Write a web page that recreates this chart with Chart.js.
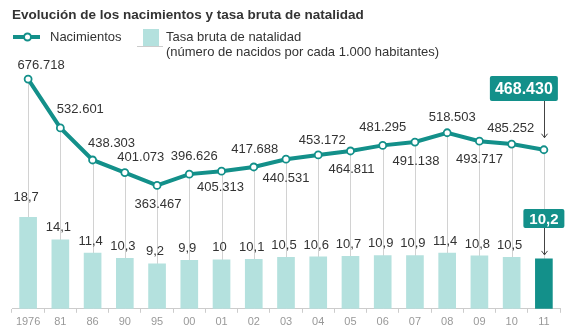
<!DOCTYPE html>
<html>
<head>
<meta charset="utf-8">
<script src="https://cdn.jsdelivr.net/npm/chart.js@4.4.1/dist/chart.umd.min.js"></script>
<style>
  html, body { margin: 0; padding: 0; background: #fff; }
  #wrap { width: 578px; height: 333px; }
</style>
</head>
<body>
<div id="wrap"><canvas id="chart" width="578" height="333"></canvas></div>
<script>
// data
const years = ['1976', '81', '86', '90', '95', '00', '01', '02', '03', '04', '05', '06', '07', '08', '09', '10', '11'];
const births = [676718, 532601, 438303, 401073, 363467, 396626, 405313, 417688, 440531,
  453172, 464811, 481295, 491138, 518503, 493717, 485252, 468430];
const birthRate = [18.7, 14.1, 11.4, 10.3, 9.2, 9.9, 10, 10.1, 10.5, 10.6, 10.7, 10.9, 10.9, 11.4, 10.8, 10.5, 10.2];

// where each birth label sits relative to its point (last one is the callout)
const birthLabelOffsets = [
  [13, -14], [20, -19], [19, -17], [16, -15], [1, 19], [5, -18], [-1, 16], [1, -18], [0, 19],
  [4, -15], [1, 18], [0, -18], [1, 19], [5, -15], [0, 18], [-1, -16], null
];

const TEAL = '#13908a';
const LIGHT = '#b4e1de';
const TEXT = '#333';
const FONT = '"Liberation Sans", Arial, sans-serif';

const fmtThousands = n => String(n).replace(/\B(?=(\d{3})+(?!\d))/g, '.');
const fmtRate = v => String(v).replace('.', ',');

// vertical guide lines from each point down to the baseline
const guideLines = {
  id: 'guideLines',
  beforeDatasetsDraw(chart) {
    const { ctx, chartArea } = chart;
    const pts = chart.getDatasetMeta(0).data;
    ctx.save();
    ctx.strokeStyle = '#d2d2d2';
    ctx.lineWidth = 1;
    pts.forEach(p => {
      const x = Math.round(p.x) + 0.5;
      ctx.beginPath();
      ctx.moveTo(x, p.y);
      ctx.lineTo(x, chartArea.bottom);
      ctx.stroke();
    });
    ctx.restore();
  }
};

function callout(ctx, text, cx, top, w, h, fontSize, arrowX, arrowTo) {
  ctx.save();
  ctx.strokeStyle = '#444';
  ctx.fillStyle = '#444';
  ctx.lineWidth = 1;
  ctx.beginPath();
  ctx.moveTo(arrowX + 0.5, top + h);
  ctx.lineTo(arrowX + 0.5, arrowTo);
  ctx.stroke();
  ctx.beginPath();
  ctx.moveTo(arrowX - 2.5, arrowTo - 4);
  ctx.lineTo(arrowX + 0.5, arrowTo);
  ctx.lineTo(arrowX + 3.5, arrowTo - 4);
  ctx.stroke();

  ctx.fillStyle = TEAL;
  ctx.beginPath();
  ctx.roundRect(cx - w / 2, top, w, h, 2);
  ctx.fill();
  ctx.fillStyle = '#fff';
  ctx.font = `bold ${fontSize}px ${FONT}`;
  ctx.textAlign = 'center';
  ctx.textBaseline = 'middle';
  ctx.fillText(text, cx, top + h / 2 + 1);
  ctx.restore();
}

// title, legend, value labels and callouts
const annotations = {
  id: 'annotations',
  afterDatasetsDraw(chart) {
    const { ctx } = chart;
    const linePts = chart.getDatasetMeta(0).data;
    const bars = chart.getDatasetMeta(1).data;

    ctx.save();
    ctx.fillStyle = TEXT;
    ctx.textBaseline = 'middle';
    ctx.font = `bold 13.5px ${FONT}`;
    ctx.textAlign = 'left';
    ctx.fillText('Evolución de los nacimientos y tasa bruta de natalidad', 12, 15);

    // legend
    ctx.strokeStyle = TEAL;
    ctx.lineWidth = 4;
    ctx.beginPath();
    ctx.moveTo(13, 37);
    ctx.lineTo(40, 37);
    ctx.stroke();
    ctx.fillStyle = '#fff';
    ctx.lineWidth = 2;
    ctx.beginPath();
    ctx.arc(27.5, 37, 3.5, 0, Math.PI * 2);
    ctx.fill();
    ctx.stroke();
    ctx.fillStyle = LIGHT;
    ctx.fillRect(143, 29, 16, 17);
    ctx.strokeStyle = '#ccc';
    ctx.lineWidth = 1;
    ctx.beginPath();
    ctx.moveTo(137, 46.5);
    ctx.lineTo(163, 46.5);
    ctx.stroke();
    ctx.fillStyle = TEXT;
    ctx.font = `13px ${FONT}`;
    ctx.fillText('Nacimientos', 50, 37);
    ctx.fillText('Tasa bruta de natalidad', 166, 37);
    ctx.fillText('(número de nacidos por cada 1.000 habitantes)', 166, 52);

    // birth labels
    ctx.textAlign = 'center';
    linePts.forEach((p, i) => {
      const off = birthLabelOffsets[i];
      if (!off) return;
      ctx.fillText(fmtThousands(births[i]), p.x + off[0], p.y + off[1]);
    });

    // rate labels
    bars.forEach((b, i) => {
      if (i === bars.length - 1) return;
      const lift = i === 0 ? 20 : 12;
      ctx.fillText(fmtRate(birthRate[i]), b.x - 2, b.y - lift);
    });
    ctx.restore();

    const lastP = linePts[linePts.length - 1];
    const lastB = bars[bars.length - 1];
    callout(ctx, fmtThousands(births[births.length - 1]), lastP.x - 20, 76, 68, 25, 16,
      Math.round(lastP.x), lastP.y - 12);
    callout(ctx, fmtRate(birthRate[birthRate.length - 1]), lastB.x, 209, 41, 19, 15,
      Math.round(lastB.x), lastB.y - 4);
  }
};

new Chart(document.getElementById('chart'), {
  type: 'bar',
  data: {
    labels: years,
    datasets: [
      {
        type: 'line',
        label: 'Nacimientos',
        data: births,
        yAxisID: 'yLine',
        borderColor: TEAL,
        borderWidth: 4,
        pointRadius: 3.5,
        pointBorderWidth: 1.8,
        pointBackgroundColor: '#fff',
        pointBorderColor: TEAL,
        tension: 0,
        order: 0
      },
      {
        type: 'bar',
        label: 'Tasa bruta de natalidad',
        data: birthRate,
        yAxisID: 'yBar',
        backgroundColor: birthRate.map((v, i) => i === birthRate.length - 1 ? TEAL : LIGHT),
        barThickness: 17,
        order: 1
      }
    ]
  },
  options: {
    responsive: false,
    animation: false,
    layout: { padding: { top: 70, left: 12, right: 18, bottom: 1 } },
    plugins: { legend: { display: false }, tooltip: { enabled: false } },
    scales: {
      x: {
        offset: true,
        border: { color: '#ccc' },
        grid: { drawOnChartArea: false, drawTicks: true, tickLength: 4, color: '#ccc' },
        ticks: { color: '#999', font: { family: FONT, size: 11 }, padding: 3, maxRotation: 0, autoSkip: false }
      },
      yLine: { display: false, min: 0, max: 703300 },
      yBar: { display: false, min: 0, max: 48.8 }
    }
  },
  plugins: [guideLines, annotations]
});
</script>
</body>
</html>
